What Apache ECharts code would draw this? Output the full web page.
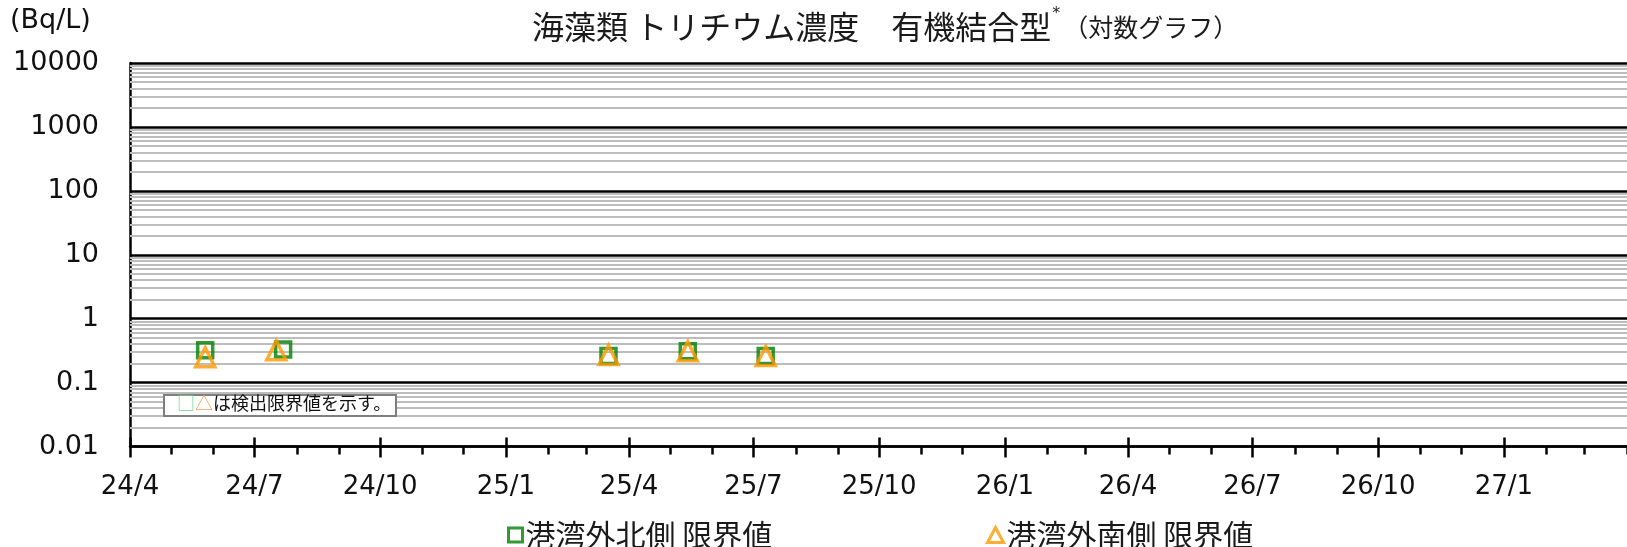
<!DOCTYPE html>
<html>
<head>
<meta charset="utf-8">
<script src="https://cdn.jsdelivr.net/npm/echarts@6/dist/echarts.min.js"></script>
<style>
html,body{margin:0;padding:0;background:#fff;}
#chart{width:1627px;height:547px;}
</style>
</head>
<body>
<div id="chart"></div>
<script>
// ---- data ----
const northName = '港湾外北側 限界値';
const southName = '港湾外南側 限界値';
const northDates = ['2024-05-26', '2024-07-22', '2025-03-17', '2025-05-14', '2025-07-10'];
const northValues = [0.32, 0.33, 0.26, 0.31, 0.26];
const southDates = ['2024-05-26', '2024-07-17', '2025-03-17', '2025-05-14', '2025-07-10'];
const southValues = [0.25, 0.32, 0.27, 0.31, 0.26];
const xTickLabels = ['24/4', '24/7', '24/10', '25/1', '25/4', '25/7', '25/10', '26/1', '26/4', '26/7', '26/10', '27/1'];
const yTickLabels = ['0.01', '0.1', '1', '10', '100', '1000', '10000'];
const axisStart = '2024-04-01';
const axisEnd = '2027-04-01';

// ---- helpers ----
function dayOffset(str) {
  const p = str.split('-').map(Number);
  const a = axisStart.split('-').map(Number);
  return (Date.UTC(p[0], p[1] - 1, p[2]) - Date.UTC(a[0], a[1] - 1, a[2])) / 86400000;
}
function labelToOffset(lbl) {
  const p = lbl.split('/').map(Number);
  const y = 2000 + p[0];
  const m = String(p[1]).padStart(2, '0');
  return dayOffset(y + '-' + m + '-01');
}
const xMax = dayOffset(axisEnd);
const quarterOffsets = xTickLabels.map(labelToOffset);
const labelByOffset = {};
xTickLabels.forEach((l, i) => { labelByOffset[quarterOffsets[i]] = l; });
const monthOffsets = [];
for (let y = 2024, m = 4; y < 2027 || (y === 2027 && m <= 4); ) {
  monthOffsets.push(dayOffset(y + '-' + String(m).padStart(2, '0') + '-01'));
  m++; if (m > 12) { m = 1; y++; }
}
// minor log gridlines (2..9 within each decade)
const minorLines = [];
for (let e = -2; e < 4; e++) {
  for (let k = 2; k <= 9; k++) minorLines.push({ yAxis: k * Math.pow(10, e) });
}

const northData = northDates.map((d, i) => [dayOffset(d), northValues[i]]);
const southData = southDates.map((d, i) => [dayOffset(d), southValues[i]]);

const GRID = { left: 130, top: 63, width: 1513, height: 383.5 };
const numFont = 'DejaVu Sans';
const cjkFont = 'Noto Sans CJK JP';

const baseX = { type: 'value', min: 0, max: xMax, gridIndex: 0, position: 'bottom', splitLine: { show: false } };

const chart = echarts.init(document.getElementById('chart'), null, { renderer: 'canvas' });
chart.setOption({
  animation: false,
  backgroundColor: '#ffffff',
  title: {
    left: 527, top: 1,
    text: '{a|海藻類 トリチウム濃度　有機結合型}{s|*}{b|（対数グラフ）}',
    textStyle: {
      fontWeight: 'normal',
      rich: {
        a: { fontFamily: cjkFont, fontSize: 32, fontWeight: 'normal', color: '#1a1a1a', lineHeight: 42 },
        s: { fontFamily: numFont, fontSize: 16, fontWeight: 'normal', color: '#1a1a1a', verticalAlign: 'top', lineHeight: 42, padding: [0, 3, 12, 1] },
        b: { fontFamily: cjkFont, fontSize: 25, fontWeight: 'normal', color: '#1a1a1a', lineHeight: 42 }
      }
    }
  },
  grid: GRID,
  legend: [
    {
      data: [northName], left: 502, top: 515, itemWidth: 14, itemHeight: 14, itemGap: 0,
      textStyle: { fontFamily: cjkFont, fontSize: 30, color: '#1a1a1a', padding: [0, 0, 0, -2] },
      itemStyle: { color: 'transparent', borderColor: '#008000', borderWidth: 3 }
    },
    {
      data: [southName], left: 981, top: 515, itemWidth: 16, itemHeight: 15, itemGap: 0,
      textStyle: { fontFamily: cjkFont, fontSize: 30, color: '#1a1a1a', padding: [0, 0, 0, -2] },
      itemStyle: { color: 'transparent', borderColor: '#FF9900', borderWidth: 3 }
    }
  ],
  xAxis: [
    Object.assign({}, baseX, {
      axisLine: { show: true, lineStyle: { color: '#000', width: 2.5 } },
      axisTick: { show: true, customValues: monthOffsets, length: 8, lineStyle: { color: '#000', width: 2.5 } },
      axisLabel: {
        show: true, customValues: quarterOffsets, margin: 28,
        fontFamily: numFont, fontSize: 26, color: '#111',
        formatter: v => labelByOffset[Math.round(v)] || ''
      }
    }),
    Object.assign({}, baseX, {
      axisLine: { show: false },
      axisTick: { show: true, customValues: quarterOffsets, length: 11, lineStyle: { color: '#000', width: 2.5 } },
      axisLabel: { show: false }
    }),
    Object.assign({}, baseX, {
      axisLine: { show: false },
      axisTick: { show: true, inside: true, customValues: quarterOffsets, length: 9, lineStyle: { color: '#000', width: 2.5 } },
      axisLabel: { show: false }
    })
  ],
  yAxis: {
    type: 'log', logBase: 10, min: 0.01, max: 10000,
    axisLine: { show: true, lineStyle: { color: '#000', width: 2.5 } },
    axisTick: { show: false },
    splitLine: { show: true, lineStyle: { color: '#000', width: 2.5 } },
    axisLabel: {
      margin: 31, fontFamily: numFont, fontSize: 27, color: '#111',
      formatter: v => yTickLabels[Math.round(Math.log10(v)) + 2]
    }
  },
  series: [
    {
      name: 'grid', type: 'line', data: [], z: 1, silent: true,
      markLine: {
        silent: true, symbol: ['none', 'none'], label: { show: false },
        lineStyle: { color: '#bdbdbd', width: 2, type: 'solid' },
        emphasis: { disabled: true },
        data: minorLines
      }
    },
    {
      name: northName, type: 'scatter', data: northData, z: 5,
      symbol: 'rect', symbolSize: 15,
      itemStyle: { color: 'transparent', borderColor: '#008000', borderWidth: 3.5 }
    },
    {
      name: southName, type: 'scatter', data: southData, z: 6,
      symbol: 'triangle', symbolSize: [19, 19],
      itemStyle: { color: 'transparent', borderColor: '#FF9900', borderWidth: 3.5 }
    }
  ],
  graphic: [
    {
      type: 'text', left: 10, top: 7, z: 100,
      style: { text: '(Bq/L)', fontFamily: numFont, fontSize: 27, fill: '#111' }
    },
    {
      type: 'rect', left: 163, top: 394, z: 100,
      shape: { x: 0, y: 0, width: 232, height: 21 },
      style: { fill: '#ffffff', stroke: '#7f7f7f', lineWidth: 2 }
    },
    {
      type: 'text', left: 177, top: 394, z: 101,
      style: {
        text: '{g|□}{o|△}{t|は検出限界値を示す。}',
        rich: {
          g: { fontFamily: cjkFont, fontSize: 18, fill: '#6fcf95', lineHeight: 21 },
          o: { fontFamily: cjkFont, fontSize: 18, fill: '#f0a060', lineHeight: 21 },
          t: { fontFamily: cjkFont, fontSize: 18, fill: '#111', lineHeight: 21 }
        }
      }
    }
  ]
});
</script>
</body>
</html>
